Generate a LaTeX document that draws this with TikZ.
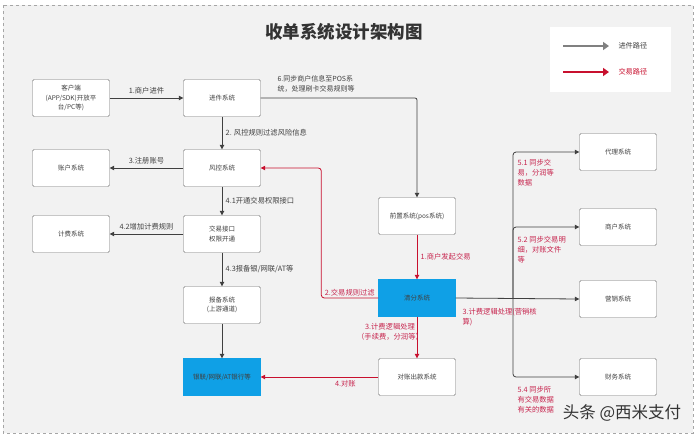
\documentclass[tikz,border=0pt]{standalone}
\usepackage{fontspec}
\setmainfont{Noto Sans CJK SC}
\usetikzlibrary{arrows.meta}
\definecolor{bg}{HTML}{F2F2F2}
\definecolor{ln}{HTML}{404040}
\definecolor{rd}{HTML}{C8102E}
\definecolor{lbl}{HTML}{C7254E}
\definecolor{blu}{HTML}{0FA0E6}
\begin{document}
\begin{tikzpicture}[x=1pt,y=-1pt,
 box/.style={draw=black!55, fill=white, rounded corners=1.5pt, minimum width=77pt, minimum height=37pt, align=center, font=\fontsize{6.5}{9.5}\selectfont, inner sep=1pt, text=black!75},
 bluebox/.style={box, fill=blu, draw=blu, rounded corners=0pt},
 gl/.style={draw=ln, line width=0.8pt, -{Triangle[length=4.5pt,width=4.5pt]}},
 rl/.style={draw=rd, line width=0.8pt, -{Triangle[length=4.5pt,width=4.5pt]}},
 lab/.style={font=\fontsize{7.3}{10}\selectfont, text=black!75},
 rlab/.style={font=\fontsize{7.3}{10}\selectfont, text=lbl, align=left},
]
\useasboundingbox[fill=white] (0,0) rectangle (700,437);
\draw[dashed, fill=bg, draw=black!35, line width=0.6pt] (3,5) rectangle (693,433);

% title
\node[font=\fontsize{17.5}{20}\selectfont\bfseries, text=black!80] (title) at (344,32) {收单系统设计架构图};

% legend
\node[fill=white, minimum width=121pt, minimum height=65pt, inner sep=0pt] (legend) at (610,59) {};
\coordinate (g1) at (563,46); \coordinate (g2) at (609,46);
\coordinate (r1) at (563,72); \coordinate (r2) at (609,72);
\draw[draw=gray, line width=2pt, -{Triangle[length=6pt,width=8pt]}] (g1) -- (g2);
\draw[draw=rd, line width=2pt, -{Triangle[length=6pt,width=8pt]}] (r1) -- (r2);
\node[lab, anchor=west, font=\fontsize{7.2}{9}\selectfont] (lg) at (615,46) {进件路径};
\node[lab, anchor=west, font=\fontsize{7.2}{9}\selectfont, text=rd] (lr) at (615,72) {交易路径};

% nodes
\node[box] (kh) at (71,98) {客户端\\(APP/SDK)开放平\\台/PC等)};
\node[box] (jj) at (222,98) {进件系统};
\node[box] (zh) at (71,168) {账户系统};
\node[box] (fk) at (222,168) {风控系统};
\node[box] (jf) at (71,234) {计费系统};
\node[box] (jy) at (222,234) {交易接口\\权限开通};
\node[box] (bb) at (222,305) {报备系统\\(上游通道)};
\node[bluebox] (yl) at (222,377) {银联/网联/AT银行等};
\node[box] (qz) at (417,216) {前置系统(pos系统)};
\node[bluebox] (qf) at (417,298) {清分系统};
\node[box] (dz) at (417,377) {对账出款系统};
\node[box] (dl) at (618,152) {代理系统};
\node[box] (sh) at (618,227) {商户系统};
\node[box] (yx) at (618,299) {营销系统};
\node[box] (cw) at (618,377) {财务系统};

% gray connectors
\draw[gl] (kh) -- node[lab, above] {1.商户进件} (jj);
\draw[gl] (jj) -- node[lab, right] {2. 风控规则过滤风险信息} (fk);
\draw[gl] (fk) -- node[lab, above] {3.注册账号} (zh);
\draw[gl] (fk) -- node[lab, right] {4.1开通交易权限接口} (jy);
\draw[gl] (jy) -- node[lab, above] {4.2增加计费规则} (jf);
\draw[gl] (jy) -- node[lab, right] {4.3报备银/网联/AT等} (bb);
\draw[gl] (bb) -- (yl);
\draw[gl, rounded corners=2pt] (jj.east) -| (qz.north);
\node[lab, anchor=south west, align=left, font=\fontsize{7}{10}\selectfont] (l6) at (274,96) {6.同步商户信息至POS系\\统，处理刷卡交易规则等};

% red connectors
\draw[rl] (qz) -- node[rlab, right] {1.商户发起交易} (qf);
\draw[rl, rounded corners=3pt] (qf.west) -- node[rlab, above, inner sep=1.5pt] {2.交易规则过滤} ++(-57,0) |- (fk.east);
\draw[rl] (qf) -- (dz);
\node[rlab, align=center] (l3b) at (390,332) {3.计费逻辑处理\\（手续费，分润等）};
\draw[rl] (dz) -- node[rlab, below, pos=0.28] {4.对账} (yl);

% right branch
\draw[gl] (qf.east) -- (yx.west);
\coordinate (br) at (513,298);
\draw[gl, rounded corners=3pt] (br) |- (dl.west);
\draw[gl, rounded corners=3pt] (br) |- (sh.west);
\draw[gl, rounded corners=3pt] (br) |- (cw.west);
\node[rlab, anchor=north west] (l3a) at (459,305) {3.计费逻辑处理(营销核\\算)};
\node[rlab, anchor=north west] (l51) at (514,156) {5.1 同步交\\易，分润等\\数据};
\node[rlab, anchor=north west] (l52) at (514,233) {5.2 同步交易明\\细，对账文件\\等};
\node[rlab, anchor=north west] (l54) at (514,383) {5.4 同步所\\有交易数据\\有关的数据};

% watermark
\node[font=\fontsize{16.5}{19}\selectfont, text=black!80] (wm) at (622,413) {头条 @西米支付};
\end{tikzpicture}
\end{document}
